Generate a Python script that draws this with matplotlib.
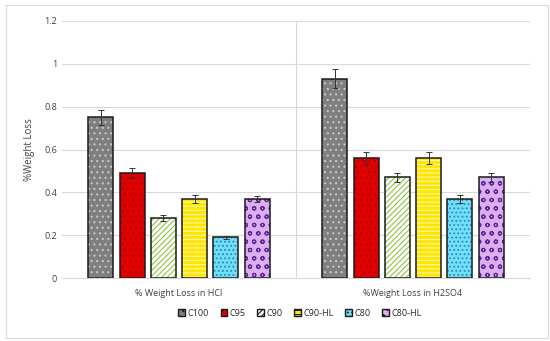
import numpy as np
import matplotlib.pyplot as plt
from matplotlib.patches import Patch, Rectangle

categories = ["% Weight Loss in HCl", "%Weight Loss in H2SO4"]
series = ["C100", "C95", "C90", "C90-HL", "C80", "C80-HL"]
hcl = [0.75, 0.49, 0.28, 0.37, 0.19, 0.37]
h2so4 = [0.93, 0.56, 0.47, 0.56, 0.37, 0.47]
hcl_err = [0.035, 0.025, 0.012, 0.018, 0.008, 0.015]
h2so4_err = [0.045, 0.03, 0.022, 0.028, 0.018, 0.022]

# face colour, hatch colour, hatch pattern
styles = [
    ("#7f7f7f", "#c8c8c8", "..."),
    ("#e00000", "#b00000", "..."),
    ("#ffffff", "#8cc63f", "//////"),
    ("#ffe600", "#fff7b0", "----"),
    ("#6fe0f5", "#2a7fd0", "...."),
    ("#d8b0f0", "#6a1f9a", "oo"),
]

plt.rcParams['font.family'] = ['Open Sans', 'DejaVu Sans']
plt.rcParams['hatch.linewidth'] = 0.8

fig = plt.figure(figsize=(5.5, 3.41), dpi=100)
ax = fig.add_axes([62 / 550, 1 - 278 / 341, (530 - 62) / 550, (278 - 21) / 341])

width = 0.107
step = 0.1335
x = np.arange(len(categories)) + 0.5
vals = np.array([hcl, h2so4])
errs = np.array([hcl_err, h2so4_err])

handles = []
for i, name in enumerate(series):
    face, hcol, hatch = styles[i]
    pos = x + (i - 2.5) * step
    ax.bar(pos, vals[:, i], width, color=face, edgecolor=hcol, hatch=hatch,
           linewidth=0, zorder=2)
    ax.bar(pos, vals[:, i], width, fill=False, edgecolor="#1a1a1a",
           linewidth=1.1, zorder=3)
    ax.errorbar(pos, vals[:, i], yerr=errs[:, i], fmt="none", ecolor="#333333",
                elinewidth=0.7, capsize=2, capthick=0.7, zorder=4)
    handles.append(Patch(facecolor=face, edgecolor="#1a1a1a", hatch=hatch,
                         linewidth=1.0, label=name))

ax.set_xlim(0, 2)
ax.set_ylim(0, 1.2)
ax.set_yticks(np.arange(0, 1.21, 0.2))
ax.set_yticklabels(["0", "0.2", "0.4", "0.6", "0.8", "1", "1.2"])
ax.set_xticks(x)
ax.set_xticklabels(categories)
ax.tick_params(axis='both', length=0, labelsize=6.5, colors="#404040")
ax.tick_params(axis='x', pad=8)
ax.grid(axis='y', color="#d9d9d9", linewidth=0.8, zorder=0)
ax.axvline(1, color="#d9d9d9", linewidth=0.8, zorder=0)
ax.axvline(2, color="#d9d9d9", linewidth=0.8, zorder=0)
for s in ["top", "right", "left"]:
    ax.spines[s].set_visible(False)
ax.spines["bottom"].set_color("#d9d9d9")
ax.set_ylabel("%Weight Loss", fontsize=7, color="#404040", labelpad=7)

fig.legend(handles=handles, loc="center", bbox_to_anchor=(300 / 550, 1 - 313 / 341),
           ncol=6, frameon=False, fontsize=6.5, handlelength=0.7, handleheight=0.7,
           handletextpad=0.3, columnspacing=1.3, labelcolor="#262626")

fig.patches.append(Rectangle((6 / 550, 0.01), 1 - 8 / 550, 0.975, transform=fig.transFigure,
                             fill=False, edgecolor="#d9d9d9", linewidth=0.8))

fig.savefig("out.png", dpi=100)
